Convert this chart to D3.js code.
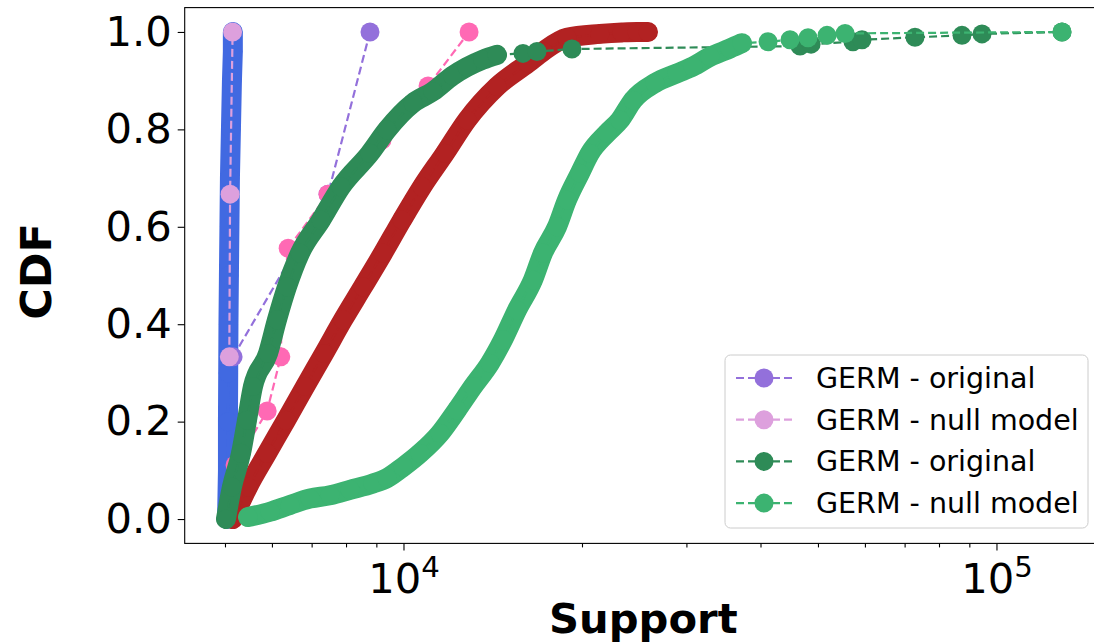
<!DOCTYPE html>
<html>
<head>
<meta charset="utf-8">
<script src="https://cdn.jsdelivr.net/npm/d3@7"></script>
<style>
  html, body { margin: 0; padding: 0; background: #fff; }
  svg { display: block; font-family: "DejaVu Sans", sans-serif; }
</style>
</head>
<body>
<div id="chart"></div>
<script>
// [support, cumulative fraction]
const blueCdf = [[5040, 0], [5058, 0.1], [5058, 0.2], [5063, 0.3], [5068, 0.4], [5077, 0.5],
  [5087, 0.6], [5097, 0.7], [5117, 0.8], [5137, 0.9], [5155, 0.96], [5155, 1.0]]

const redCdf = [[5157, 0], [5468, 0.066], [5888, 0.135], [6338, 0.203], [6823, 0.272],
  [7345, 0.340], [7907, 0.409], [8544, 0.477], [9235, 0.546], [9942, 0.614], [10745, 0.682],
  [11749, 0.751], [12796, 0.819], [14380, 0.888], [16214, 0.936], [17190, 0.960],
  [18870, 0.988], [21440, 0.996], [23360, 0.999], [24760, 1.0], [25840, 1.0]]

const purpleCdf = [[5160, 0.333], [7460, 0.667], [8780, 1.0]]
const plumCdf = [[5085, 0.333], [5100, 0.667], [5150, 1.0]]
const pinkCdf = [[5200, 0.111], [5890, 0.222], [6210, 0.333], [6240, 0.444], [6390, 0.556],
  [7460, 0.667], [9200, 0.778], [11000, 0.889], [12900, 1.0]]

const seaGreenBody = [[5019, 0], [5137, 0.066], [5321, 0.135], [5446, 0.203], [5574, 0.272],
  [5909, 0.340], [6119, 0.409], [6362, 0.477], [6691, 0.546], [7261, 0.614], [7846, 0.682],
  [8780, 0.751], [9380, 0.799], [10375, 0.854], [11211, 0.878], [12100, 0.910],
  [12796, 0.928], [13600, 0.943], [14380, 0.953]]
const seaGreenTail = [[15904, 0.956], [16795, 0.960], [19236, 0.965], [46640, 0.971],
  [48680, 0.975], [57280, 0.980], [59330, 0.984], [72880, 0.989], [87470, 0.993],
  [94540, 0.996], [128980, 1.0]]

const lightGreenBody = [[5468, 0.004], [5956, 0.015], [6436, 0.029], [6955, 0.042],
  [7518, 0.049], [8125, 0.060], [8883, 0.073], [9380, 0.084], [9981, 0.107], [10662, 0.135],
  [11523, 0.176], [12307, 0.224], [13099, 0.272], [13991, 0.320], [14718, 0.368],
  [15539, 0.429], [16535, 0.491], [17186, 0.546], [18150, 0.600], [18866, 0.655],
  [19840, 0.710], [20627, 0.751], [22033, 0.792], [23174, 0.819], [24380, 0.860],
  [26550, 0.895], [28920, 0.915], [30770, 0.929], [32880, 0.949], [35530, 0.966],
  [37220, 0.977]]
const lightGreenTail = [[41190, 0.980], [44860, 0.984], [48110, 0.988], [51790, 0.993],
  [55550, 0.997], [128980, 1.0]]

const legendLabels = ["GERM - original", "GERM - null model", "GERM - original", "GERM - null model"]
const yTicks = [0, 0.2, 0.4, 0.6, 0.8, 1.0]
const xMajorTicks = [1e4, 1e5]
const xMinorTicks = [5000, 6000, 7000, 8000, 9000, 20000, 30000, 40000, 50000, 60000, 70000, 80000, 90000]
const xDomain = [4276, 150650]
const yDomain = [-0.05, 1.05]

const width = 1094, height = 642
const plot = { left: 184.7, right: 1102, top: 7.6, bottom: 543.4 }
const markerR = 9.5

const svg = d3.select("#chart").append("svg")
  .attr("width", width).attr("height", height)
  .attr("viewBox", `0 0 ${width} ${height}`)

svg.append("rect").attr("width", width).attr("height", height).attr("fill", "#fff")

const x = d3.scaleLog().domain(xDomain).range([plot.left, plot.right])
const y = d3.scaleLinear().domain(yDomain).range([plot.bottom, plot.top])

svg.append("clipPath").attr("id", "plot-clip")
  .append("rect")
  .attr("x", plot.left).attr("y", plot.top)
  .attr("width", plot.right - plot.left).attr("height", plot.bottom - plot.top)

const series = [
  { color: "#4169e1", body: blueCdf, tail: [], smooth: false },
  { color: "#b22222", body: redCdf, tail: [], smooth: true },
  { color: "#9370db", body: [], tail: purpleCdf },
  { color: "#dda0dd", body: [], tail: plumCdf },
  { color: "#ff69b4", body: [], tail: pinkCdf },
  { color: "#2e8b57", body: seaGreenBody, tail: seaGreenTail, smooth: true },
  { color: "#3cb371", body: lightGreenBody, tail: lightGreenTail, smooth: true }
]

const line = d3.line().x(d => x(d[0])).y(d => y(d[1]))
const bandLine = d3.line().x(d => x(d[0])).y(d => y(d[1])).curve(d3.curveMonotoneX)
const plotG = svg.append("g").attr("clip-path", "url(#plot-clip)")

series.forEach(s => {
  const g = plotG.append("g")
  const all = s.body.concat(s.tail)

  // dense part of the cdf: overlapping markers read as one thick band
  if (s.body.length) {
    g.append("path")
      .attr("d", (s.smooth ? bandLine : line)(s.body))
      .attr("fill", "none")
      .attr("stroke", s.color)
      .attr("stroke-width", 20)
      .attr("stroke-linecap", "round")
      .attr("stroke-linejoin", "round")
  }

  g.append("path")
    .attr("d", line(all))
    .attr("fill", "none")
    .attr("stroke", s.color)
    .attr("stroke-width", 2.2)
    .attr("stroke-dasharray", "8,4")

  g.selectAll("circle")
    .data(all)
    .join("circle")
    .attr("cx", d => x(d[0]))
    .attr("cy", d => y(d[1]))
    .attr("r", markerR)
    .attr("fill", s.color)
})

// axes
const xMinor = svg.append("g")
  .attr("transform", `translate(0,${plot.bottom})`)
  .call(d3.axisBottom(x).tickValues(xMinorTicks).tickSize(4).tickFormat(""))

const xMajor = svg.append("g")
  .attr("transform", `translate(0,${plot.bottom})`)
  .call(d3.axisBottom(x).tickValues(xMajorTicks).tickSize(7).tickPadding(13))

xMajor.selectAll(".tick text").each(function (d) {
  const t = d3.select(this).text(null)
  t.append("tspan").text("10")
  t.append("tspan")
    .attr("font-size", "70%")
    .attr("dy", "-0.55em")
    .text(Math.round(Math.log10(d)))
})

const yAxis = svg.append("g")
  .attr("transform", `translate(${plot.left},0)`)
  .call(d3.axisLeft(y).tickValues(yTicks).tickSize(7).tickPadding(6).tickFormat(d3.format(".1f")))

;[xMinor, xMajor, yAxis].forEach(g => {
  g.select(".domain").remove()
  g.selectAll(".tick line").attr("stroke", "#000").attr("stroke-width", 1.1)
  g.selectAll(".tick text")
    .attr("fill", "#000")
    .attr("font-family", "DejaVu Sans")
    .attr("font-size", 41.7)
})

svg.append("rect")
  .attr("x", plot.left).attr("y", plot.top)
  .attr("width", plot.right - plot.left).attr("height", plot.bottom - plot.top)
  .attr("fill", "none")
  .attr("stroke", "#000")
  .attr("stroke-width", 1.1)

svg.append("text")
  .attr("x", (plot.left + plot.right) / 2)
  .attr("y", 633)
  .attr("text-anchor", "middle")
  .attr("font-size", 41.7)
  .attr("font-weight", "bold")
  .text("Support")

svg.append("text")
  .attr("transform", `translate(51,${(plot.top + plot.bottom) / 2 - 4}) rotate(-90)`)
  .attr("text-anchor", "middle")
  .attr("font-size", 43)
  .attr("font-weight", "bold")
  .text("CDF")

// legend
const legendSeries = [series[2], series[3], series[5], series[6]]
const legend = svg.append("g").attr("transform", "translate(725,355)")

legend.append("rect")
  .attr("width", 363).attr("height", 173)
  .attr("rx", 5.5)
  .attr("fill", "#fff").attr("fill-opacity", 0.8)
  .attr("stroke", "#ccc").attr("stroke-width", 1)

legendSeries.forEach((s, i) => {
  const row = legend.append("g").attr("transform", `translate(0,${23 + i * 41.7})`)
  row.append("line")
    .attr("x1", 11).attr("x2", 67)
    .attr("stroke", s.color).attr("stroke-width", 2.2)
    .attr("stroke-dasharray", "8,4")
  row.append("circle").attr("cx", 39).attr("r", markerR).attr("fill", s.color)
  row.append("text")
    .attr("x", 91).attr("y", 10)
    .attr("font-size", 28.5)
    .text(legendLabels[i])
})
</script>
</body>
</html>
